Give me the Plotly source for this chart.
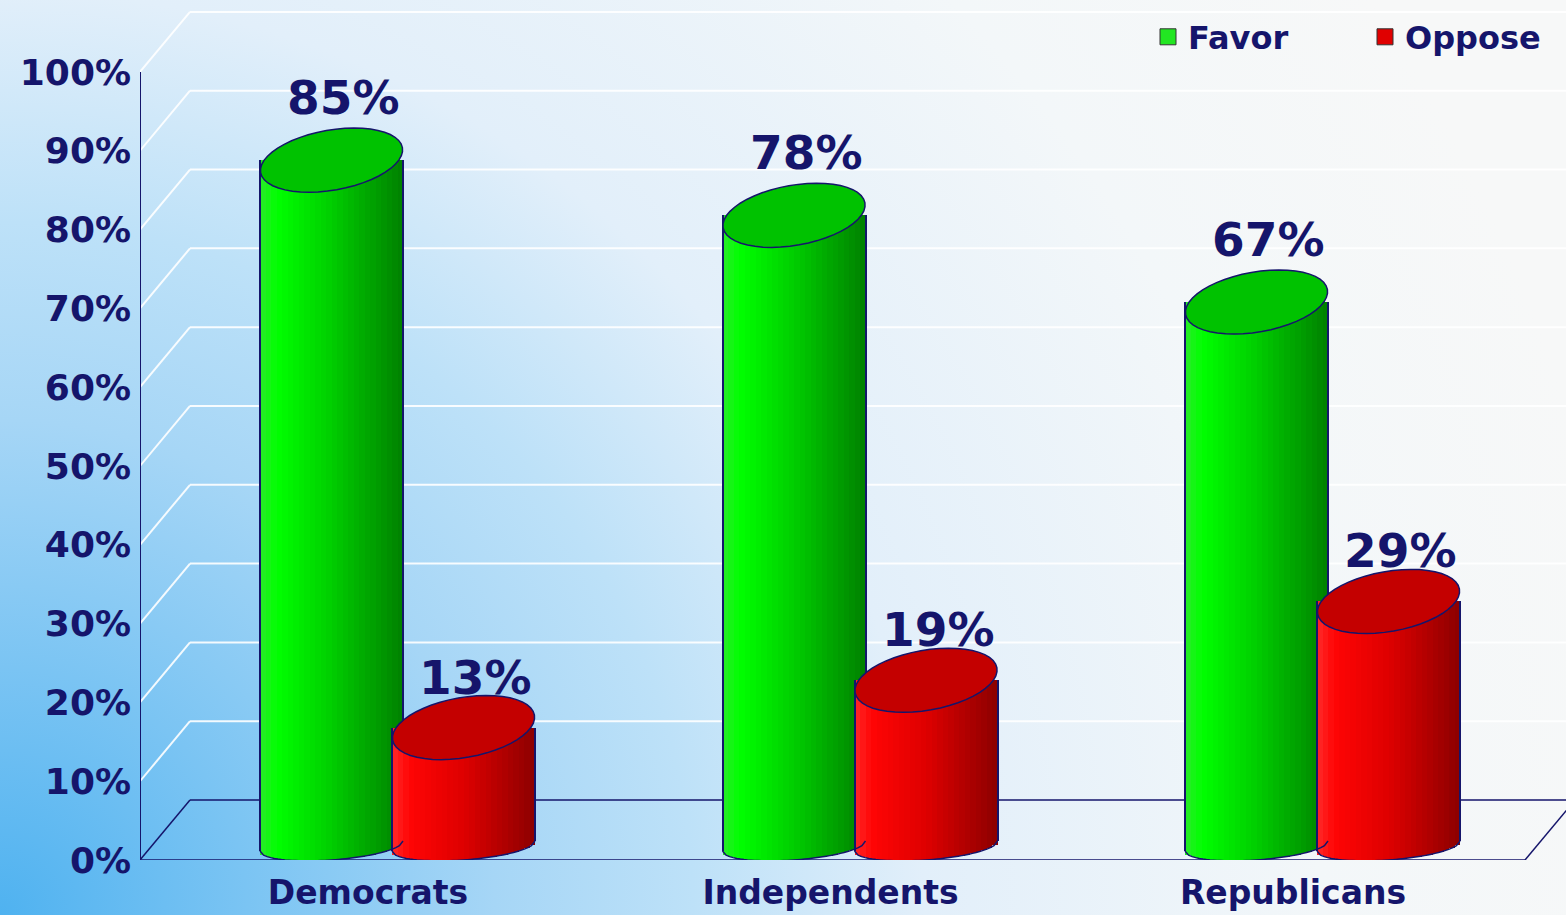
import base64
import math
import plotly.graph_objects as go

# ---------------- data ----------------
categories = ["Democrats", "Independents", "Republicans"]
favor = [85, 78, 67]
oppose = [13, 19, 29]
series_names = ["Favor", "Oppose"]
tick_values = [0, 10, 20, 30, 40, 50, 60, 70, 80, 90, 100]
tick_labels = [f"{v}%" for v in tick_values]

# ---------------- geometry / style ----------------
W, H = 1566, 915
ML, MR, MT, MB = 140, 0, 1, 55
PX_X = 462.5              # px per category unit
X0_PX = 368               # px of category 0
YMAX = 109
PX_Y = (H - MT - MB) / YMAX
XMIN = (ML - X0_PX) / PX_X
XMAX = (W - X0_PX) / PX_X

def dx(px):
    return px / PX_X

def dy(px):
    return px / PX_Y

DEPTH_Y = dy(60)          # 3D depth in data units
DEPTH_X = dx(50)
CAP_MID = DEPTH_Y / 2
BAR_W = dx(143)
OFFSETS = [dx(-108), dx(24)]
NAVY = "#15156b"
FONT = "DejaVu Sans"

# bottom (sheared) ellipse of the cylinders
BOT_B = 14                # px half-height
BOT_S = 5                 # px shear at the ends (right end higher)
BOT_C = dy(BOT_B)         # data y of bottom-ellipse centre

green_stops = [(0.0, (40, 235, 40)), (0.12, (0, 255, 0)), (0.5, (0, 205, 0)), (1.0, (0, 128, 0))]
red_stops = [(0.0, (255, 40, 40)), (0.12, (255, 5, 5)), (0.5, (222, 0, 0)), (1.0, (140, 0, 0))]
cap_colors = ["#00c200", "#c40000"]
legend_colors = ["#22e622", "#e00000"]
legend_symbol_px = [1168, 1385]

def interp(stops, t):
    for (t0, c0), (t1, c1) in zip(stops[:-1], stops[1:]):
        if t <= t1:
            f = (t - t0) / (t1 - t0)
            return "rgb(%d,%d,%d)" % tuple(round(a + (b - a) * f) for a, b in zip(c0, c1))
    return "rgb(%d,%d,%d)" % stops[-1][1]

def ellipse_path(cx, cy, a_px=72, b_px=30, tilt_deg=10, n=48):
    th = math.radians(tilt_deg)
    pts = []
    for i in range(n):
        t = 2 * math.pi * i / n
        X = a_px * math.cos(t) * math.cos(th) - b_px * math.sin(t) * math.sin(th)
        Y = a_px * math.cos(t) * math.sin(th) + b_px * math.sin(t) * math.cos(th)
        pts.append((cx + dx(X), cy + dy(Y)))
    return "M " + " L ".join(f"{x:.5f},{y:.5f}" for x, y in pts) + " Z"

def bottom_y(u):
    """data-y offset of the lower cylinder rim at normalised position u in [-1, 1]"""
    return BOT_C + dy(-BOT_B * math.sqrt(max(0.0, 1 - u * u)) + BOT_S * u)

def bottom_path(cx, n=40):
    a = 71.5
    pts = []
    for i in range(n + 1):
        u = -1 + 2 * i / n
        pts.append((cx + dx(a * u), bottom_y(u)))
    return "M " + " L ".join(f"{x:.5f},{y:.5f}" for x, y in pts)

fig = go.Figure()
xs = list(range(len(categories)))
shapes = []
annotations = []
N_STRIPES = 26

for s, (vals, stops) in enumerate([(favor, green_stops), (oppose, red_stops)]):
    off = OFFSETS[s]
    tops = [v + CAP_MID for v in vals]
    # body stripes (gradient) with curved bottom
    for k in range(N_STRIPES):
        t = (k + 0.5) / N_STRIPES
        b = bottom_y(2 * t - 1)
        fig.add_trace(go.Bar(
            x=xs, y=[tp - b for tp in tops], base=b,
            offset=off + BAR_W * k / N_STRIPES, width=BAR_W / N_STRIPES * 1.05,
            marker=dict(color=interp(stops, t), line=dict(width=0)),
            showlegend=False, hoverinfo="skip"))
    # side edges
    for e in (0, 1):
        b = bottom_y(2 * e - 1)
        fig.add_trace(go.Bar(
            x=xs, y=[tp - b for tp in tops], base=b,
            offset=off + BAR_W * e - dx(1), width=dx(2),
            marker=dict(color=NAVY, line=dict(width=0)),
            showlegend=False, hoverinfo="skip"))
    for i, v in enumerate(vals):
        cx = xs[i] + off + BAR_W / 2
        shapes.append(dict(type="path", path=bottom_path(cx), xref="x", yref="y",
                           line=dict(color=NAVY, width=1.5), layer="above"))
        shapes.append(dict(type="path", path=ellipse_path(cx, v + CAP_MID), xref="x", yref="y",
                           fillcolor=cap_colors[s], line=dict(color=NAVY, width=1.5), layer="above"))
        annotations.append(dict(x=cx + dx(12), y=v + DEPTH_Y + (dy(3) if s == 0 else dy(-9)),
                                xref="x", yref="y", text=f"{v}%", showarrow=False,
                                yanchor="bottom", xanchor="center",
                                font=dict(family=FONT, size=47, color=NAVY, weight="bold")))

# legend proxies (one legend box per series)
legend_refs = ["legend", "legend2"]
for name, col, lg in zip(series_names, legend_colors, legend_refs):
    fig.add_trace(go.Scatter(x=[None], y=[None], mode="markers", name=name, legend=lg,
                             marker=dict(symbol="square", size=20, color=col,
                                         line=dict(color="#333333", width=1))))

# back wall gridlines + side wall diagonals
x_left, x_back = XMIN, XMIN + DEPTH_X
for t in tick_values[1:]:
    shapes.append(dict(type="line", xref="x", yref="y", x0=x_back, x1=XMAX, y0=t + DEPTH_Y, y1=t + DEPTH_Y,
                       line=dict(color="rgba(255,255,255,0.9)", width=2), layer="below"))
    shapes.append(dict(type="line", xref="x", yref="y", x0=x_left, x1=x_back, y0=t, y1=t + DEPTH_Y,
                       line=dict(color="rgba(255,255,255,0.9)", width=2), layer="below"))
# floor
x_front_end = (1525 - X0_PX) / PX_X
floor_line = dict(color=NAVY, width=1.5)
shapes += [
    dict(type="line", xref="x", yref="y", x0=x_left, x1=x_front_end, y0=0, y1=0, line=floor_line, layer="below"),
    dict(type="line", xref="x", yref="y", x0=x_back, x1=XMAX, y0=DEPTH_Y, y1=DEPTH_Y, line=floor_line, layer="below"),
    dict(type="line", xref="x", yref="y", x0=x_left, x1=x_back, y0=0, y1=DEPTH_Y, line=floor_line, layer="below"),
    dict(type="line", xref="x", yref="y", x0=x_front_end, x1=x_front_end + DEPTH_X, y0=0, y1=DEPTH_Y, line=floor_line, layer="below"),
    dict(type="line", xref="x", yref="y", x0=x_left, x1=x_left, y0=0, y1=100, line=dict(color=NAVY, width=2), layer="above"),
]

# background gradient (decoration)
svg = f'''<svg xmlns="http://www.w3.org/2000/svg" width="{W}" height="{H}" viewBox="0 0 {W} {H}" preserveAspectRatio="none">
<defs><radialGradient id="g" cx="0" cy="{H}" r="1650" gradientUnits="userSpaceOnUse">
<stop offset="0" stop-color="#4fb2f0"/>
<stop offset="0.3" stop-color="#a6d6f6"/>
<stop offset="0.42" stop-color="#bde1f8"/>
<stop offset="0.56" stop-color="#e2effa"/>
<stop offset="0.8" stop-color="#f3f7f9"/>
<stop offset="1" stop-color="#f7f8f8"/>
</radialGradient></defs>
<rect width="{W}" height="{H}" fill="url(#g)"/></svg>'''
src = "data:image/svg+xml;base64," + base64.b64encode(svg.encode()).decode()
pw, ph = W - ML - MR, H - MT - MB

legend_common = dict(orientation="h", xanchor="left", y=(H - MB - 37) / ph, yanchor="middle",
                     font=dict(family=FONT, size=32, color=NAVY, weight="bold"),
                     bgcolor="rgba(0,0,0,0)", itemsizing="trace")

fig.update_layout(
    width=W, height=H, autosize=False,
    margin=dict(l=ML, r=MR, t=MT, b=MB),
    barmode="overlay", bargap=0,
    paper_bgcolor="#eef5fa", plot_bgcolor="rgba(0,0,0,0)",
    images=[dict(source=src, xref="paper", yref="paper", x=-ML / pw, y=1 + MT / ph,
                 sizex=W / pw, sizey=H / ph, sizing="stretch", layer="below",
                 xanchor="left", yanchor="top")],
    shapes=shapes, annotations=annotations,
    xaxis=dict(range=[XMIN, XMAX], tickvals=xs, ticktext=categories, showgrid=False,
               zeroline=False, showline=False, ticks="", ticklabelstandoff=10,
               tickfont=dict(family=FONT, size=33, color=NAVY, weight="bold")),
    yaxis=dict(range=[0, YMAX], tickvals=tick_values, ticktext=tick_labels, showgrid=False,
               zeroline=False, showline=False, ticks="", ticklabelstandoff=8,
               tickfont=dict(family=FONT, size=36, color=NAVY, weight="bold")),
    legend=dict(x=(legend_symbol_px[0] - 20 - ML) / pw, **legend_common),
    legend2=dict(x=(legend_symbol_px[1] - 20 - ML) / pw, **legend_common),
    showlegend=True,
)

post = ("document.documentElement.style.margin='0';document.body.style.margin='0';"
        "document.body.style.overflow='hidden';document.documentElement.style.overflow='hidden';"
        "var gd=document.getElementById('{plot_id}');Plotly.relayout(gd,{width:%d,height:%d});" % (W, H))
fig.write_html("out.html", post_script=post, config={"displayModeBar": False})
